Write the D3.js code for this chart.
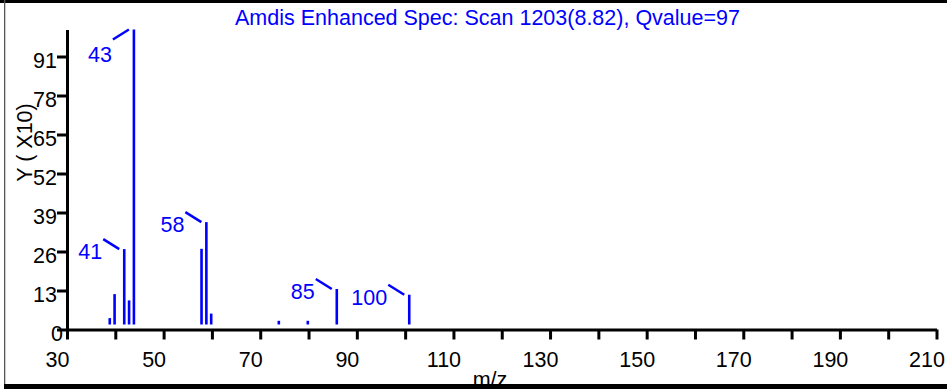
<!DOCTYPE html>
<html>
<head>
<meta charset="utf-8">
<script src="https://cdn.jsdelivr.net/npm/d3@7"></script>
<style>
  html, body { margin: 0; padding: 0; background: #fff; }
  svg { display: block; font-family: "Liberation Sans", Arial, sans-serif; }
</style>
</head>
<body>
<svg id="chart" width="947" height="390"></svg>
<script>
// ---- data ----
const mzValues    = [38, 39, 41, 42, 43, 57, 58, 59, 73, 79, 85, 100];
const intensities = [3.8, 11.8, 26.8, 9.7, 100, 26.9, 35.8, 5.3, 2.9, 2.9, 13.5, 11.6];
const labeledMz   = [41, 43, 58, 85, 100];
const xTickValues = d3.range(30, 211, 10);
const xLabelValues = d3.range(30, 211, 20);
const yTickValues = [0, 13, 26, 39, 52, 65, 78, 91];
const titleText = "Amdis Enhanced Spec: Scan 1203(8.82), Qvalue=97";
const xTitleText = "m/z";
const yTitleText = "Y ( X10)";

// ---- layout / style ----
const W = 947, H = 390;
const BLUE = "#0000ff";
const FONT = 21.5;
const MZ_SHIFT = 0.85;     // displayed offset of peaks relative to axis
const BASE_GAP = 5;        // gap between bars and axis line

const svg = d3.select("#chart");

const x = d3.scaleLinear().domain([30, 210]).range([67, 936.5]);
const y = d3.scaleLinear().domain([0, 100]).range([329.5, 29.5]);

// frame
svg.append("rect").attr("x", 0).attr("y", 0).attr("width", W).attr("height", 3).attr("fill", "#000");
svg.append("rect").attr("x", 4).attr("y", 0).attr("width", 1.3).attr("height", 389).attr("fill", "#555");

// title
svg.append("text")
  .attr("x", 487.5).attr("y", 25)
  .attr("text-anchor", "middle")
  .attr("fill", BLUE)
  .style("font-size", FONT + "px")
  .text(titleText);

// x axis
const xAxis = d3.axisBottom(x)
  .tickValues(xTickValues)
  .tickSize(10)
  .tickSizeOuter(0)
  .tickPadding(0)
  .tickFormat(d => xLabelValues.includes(d) ? d : "");
const gx = svg.append("g").attr("transform", `translate(0,${y(0)})`).call(xAxis);
gx.select(".domain").attr("stroke-width", 3);
gx.selectAll(".tick line").attr("stroke-width", 3);
gx.selectAll(".tick text")
  .attr("dy", null).attr("y", 37.5).attr("dx", -10)
  .attr("fill", "#000")
  .style("font-size", FONT + "px").style("font-family", "Liberation Sans, Arial, sans-serif");

// y axis
const yAxis = d3.axisLeft(y)
  .tickValues(yTickValues)
  .tickSize(10)
  .tickSizeOuter(0)
  .tickPadding(0)
  .tickFormat(d3.format("d"));
const gy = svg.append("g").attr("transform", `translate(${x(30)},0)`).call(yAxis);
gy.select(".domain").attr("stroke-width", 3);
gy.selectAll(".tick line").attr("stroke-width", 3);
gy.selectAll(".tick text")
  .attr("dy", null).attr("y", 11)
  .attr("x", d => d === 0 ? -4 : -10)
  .attr("fill", "#000")
  .style("font-size", FONT + "px").style("font-family", "Liberation Sans, Arial, sans-serif");

// axis titles
svg.append("text")
  .attr("transform", `translate(31.5,${142.5}) rotate(-90)`)
  .attr("text-anchor", "middle")
  .attr("fill", "#000")
  .style("font-size", FONT + "px")
  .text(yTitleText);

svg.append("text")
  .attr("x", 490).attr("y", 387)
  .attr("text-anchor", "middle")
  .attr("fill", "#000")
  .style("font-size", FONT + "px")
  .text(xTitleText);

// bars
const peaks = mzValues.map((m, i) => ({ mz: m, v: intensities[i] }));
svg.append("g").selectAll("rect")
  .data(peaks)
  .join("rect")
  .attr("x", d => x(d.mz + MZ_SHIFT) - 1.3)
  .attr("width", 2.6)
  .attr("y", d => y(d.v))
  .attr("height", d => Math.max(0, (y(0) - BASE_GAP) - y(d.v)))
  .attr("fill", BLUE);

// peak labels with leader lines
const lab = svg.append("g");
peaks.filter(d => labeledMz.includes(d.mz)).forEach(d => {
  const bx = x(d.mz + MZ_SHIFT), ty = y(d.v);
  const flip = ty - 10 < y(100);
  const ey = flip ? ty + 10 : ty - 10;
  lab.append("line")
    .attr("x1", bx - 5).attr("y1", ty)
    .attr("x2", bx - 21).attr("y2", ey)
    .attr("stroke", BLUE).attr("stroke-width", 2.5);
  lab.append("text")
    .attr("x", bx - 22)
    .attr("y", flip ? ty + 32 : ty + 10)
    .attr("text-anchor", "end")
    .attr("fill", BLUE)
    .style("font-size", FONT + "px")
    .text(d.mz);
});

// bottom frame bar (drawn last, overlaps the m/z title)
svg.append("rect").attr("x", 4).attr("y", 384).attr("width", W - 4).attr("height", 5).attr("fill", "#000");
</script>
</body>
</html>
